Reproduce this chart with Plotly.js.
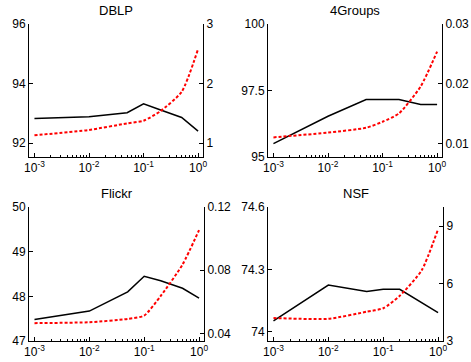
<!DOCTYPE html>
<html><head><meta charset="utf-8">
<script src="https://cdn.plot.ly/plotly-3.0.1.min.js"></script>
<style>html,body{margin:0;padding:0;background:#fff}#plot{width:471px;height:362px}</style>
</head><body><div id="plot"></div>
<script>
const xVals = [0.001, 0.01, 0.05, 0.1, 0.2, 0.5, 1];
const titles = ["DBLP", "4Groups", "Flickr", "NSF"];
const dblpAcc = [92.82, 92.88, 93.02, 93.32, 93.12, 92.86, 92.4];
const dblpTime = [1.13, 1.22, 1.33, 1.375, 1.53, 1.86, 2.58];
const groupsAcc = [95.5, 96.53, 97.16, 97.16, 97.16, 96.97, 96.97];
const groupsTime = [0.0111, 0.0119, 0.0127, 0.0137, 0.0151, 0.0196, 0.0254];
const flickrAcc = [47.48, 47.67, 48.1, 48.45, 48.35, 48.18, 47.96];
const flickrTime = [0.0465, 0.0471, 0.0492, 0.0513, 0.0637, 0.0836, 0.1054];
const nsfAcc = [74.052, 74.224, 74.193, 74.204, 74.204, 74.14, 74.092];
const nsfTime = [4.2, 4.16, 4.53, 4.71, 5.36, 6.68, 8.84];

const xTickVals = [0.001, 0.01, 0.1, 1];
const xTickText = ["10<sup>-3</sup>", "10<sup>-2</sup>", "10<sup>-1</sup>", "10<sup>0</sup>"];

const leftTicks = [[92, 94, 96], [95, 97.5, 100], [47, 48, 49, 50], [74, 74.3, 74.6]];
const leftText = [["92", "94", "96"], ["95", "97.5", "100"], ["47", "48", "49", "50"], ["74", "74.3", "74.6"]];
const rightTicks = [[1, 2, 3], [0.01, 0.02, 0.03], [0.04, 0.08, 0.12], [3, 6, 9]];
const rightText = [["1", "2", "3"], ["0.01", "0.02", "0.03"], ["0.04", "0.08", "0.12"], ["3", "6", "9"]];

const accs = [dblpAcc, groupsAcc, flickrAcc, nsfAcc];
const times = [dblpTime, groupsTime, flickrTime, nsfTime];

// log minor tick positions (2..9 x each decade)
const minorVals = [];
for (let d = -3; d < 0; d++) for (let m = 2; m <= 9; m++) minorVals.push(m * Math.pow(10, d));

const W = 471, H = 362;
const boxes = [[29, 203, 24, 157], [268, 442, 24, 157], [29, 204, 207, 341], [268, 443, 207, 341]];
const leftRanges = [[91.53, 96], [95, 100], [47, 50], [73.955, 74.6]];
const rightRanges = [[0.765, 3], [0.00783, 0.03], [0.0352, 0.12], [3, 10]];

const font = {family: "Liberation Sans, Arial, sans-serif", size: 12, color: "#000"};
const data = [];
const layout = {
  width: W, height: H, margin: {l: 0, r: 0, t: 0, b: 0},
  paper_bgcolor: "#fff", plot_bgcolor: "rgba(0,0,0,0)",
  showlegend: false, font: font, annotations: []
};

for (let i = 0; i < 4; i++) {
  const b = boxes[i];
  const xa = i === 0 ? "xaxis" : "xaxis" + (i + 1);
  const ya = i === 0 ? "yaxis" : "yaxis" + (i + 1);
  const yr = "yaxis" + (i + 5);
  const xs = i === 0 ? "x" : "x" + (i + 1);
  const ys = i === 0 ? "y" : "y" + (i + 1);
  const yrs = "y" + (i + 5);
  const axCommon = {showgrid: false, zeroline: false, showline: true, linecolor: "#000", linewidth: 1,
    ticks: "inside", ticklen: 4, tickwidth: 1, tickcolor: "#000", tickfont: font, fixedrange: true};
  layout[xa] = Object.assign({}, axCommon, {
    type: "log", domain: [b[0] / W, b[1] / W], anchor: ys,
    range: [-3.1, 0.09], tickmode: "array", tickvals: xTickVals, ticktext: xTickText,
    minor: {tickmode: "array", tickvals: minorVals, ticks: "inside", ticklen: 2, tickcolor: "#000", tickwidth: 1, showgrid: false}
  });
  layout[ya] = Object.assign({}, axCommon, {
    domain: [1 - b[3] / H, 1 - b[2] / H], anchor: xs, range: leftRanges[i],
    tickmode: "array", tickvals: leftTicks[i], ticktext: leftText[i]
  });
  layout[yr] = Object.assign({}, axCommon, {
    overlaying: ys, side: "right", anchor: xs, range: rightRanges[i],
    tickmode: "array", tickvals: rightTicks[i], ticktext: rightText[i]
  });
  data.push({x: xVals, y: accs[i], xaxis: xs, yaxis: ys, type: "scatter", mode: "lines",
    line: {color: "#000", width: 1.5}});
  data.push({x: xVals, y: times[i], xaxis: xs, yaxis: yrs, type: "scatter", mode: "lines",
    line: {color: "#ff0000", width: 2, dash: "3px,2px", shape: "spline", smoothing: 0.6}});
  layout.annotations.push({text: titles[i], xref: "paper", yref: "paper",
    x: (b[0] + b[1]) / 2 / W, y: 1 - (b[2] - 14) / H, xanchor: "center", yanchor: "middle",
    showarrow: false, font: {family: font.family, size: 13, color: "#000"}});
}

Plotly.newPlot("plot", data, layout, {displayModeBar: false, staticPlot: true});
</script></body></html>
